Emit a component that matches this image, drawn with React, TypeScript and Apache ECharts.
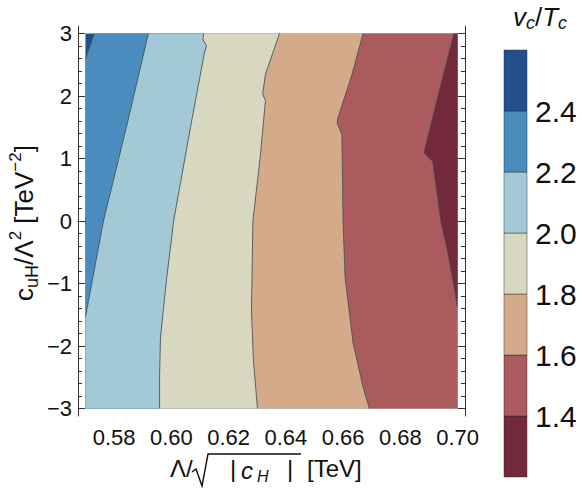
import React, { useEffect, useRef } from 'react';
import * as echarts from 'echarts';

const FONT = "'Liberation Sans', Arial, Helvetica, sans-serif";

// contour levels and band colours (low -> high)
const levels = [1.2, 1.4, 1.6, 1.8, 2.0, 2.2, 2.4, 2.6];
const bandColors = ['#74283b', '#ab5b5d', '#d4aa8b', '#d8d8c1', '#a3c9d6', '#4a8cbd', '#234f8f'];

// tick labels
const xTickValues = [0.58, 0.6, 0.62, 0.64, 0.66, 0.68, 0.7];
const yTickValues = [-3, -2, -1, 0, 1, 2, 3];
const colorbarTicks = [1.4, 1.6, 1.8, 2.0, 2.2, 2.4];

// data domain
const xDomain = [0.57, 0.7];
const yDomain = [-3, 3];

// contour lines [x, y], ordered from top edge downwards
const contour24 = [[0.5731, 3], [0.57, 2.59]];
const contour22 = [[0.592, 3], [0.5843, 1.5], [0.5763, 0], [0.57, -1.54]];
const contour20 = [[0.6113, 3], [0.611, 2.91], [0.6123, 2.8], [0.6116, 2.7], [0.6067, 1.5], [0.6008, 0], [0.5999, -0.35], [0.5984, -0.9], [0.5962, -1.87], [0.5959, -2.5], [0.5959, -3]];
const contour18 = [[0.6378, 3], [0.6329, 2.35], [0.6319, 2.03], [0.6329, 1.93], [0.631, 1.0], [0.6285, 0], [0.628, -1.43], [0.6287, -2.24], [0.6301, -3]];
const contour16 = [[0.667, 3], [0.6631, 2.34], [0.6582, 1.65], [0.6579, 1.57], [0.6596, 1.38], [0.66, 0], [0.6607, -0.9], [0.6635, -1.95], [0.667, -2.66], [0.6692, -3]];
const contour14 = [[0.6987, 3], [0.6931, 2.0], [0.6882, 1.09], [0.6913, 0.95], [0.6941, 0], [0.6966, -0.51], [0.7, -1.38]];

const contours = [
  { level: 2.4, pts: contour24 },
  { level: 2.2, pts: contour22 },
  { level: 2.0, pts: contour20 },
  { level: 1.8, pts: contour18 },
  { level: 1.6, pts: contour16 },
  { level: 1.4, pts: contour14 },
];

const X_MIN = 0.5674, X_MAX = 0.7026, Y_MIN = -3.12, Y_MAX = 3.12;
const frameColor = '#333';

function regionRightOf(pts: number[][]): number[][] {
  const [X0, X1] = xDomain;
  const [Y0, Y1] = yDomain;
  const out = pts.slice();
  const [xe, ye] = pts[pts.length - 1];
  if (xe >= X1 - 1e-9) {
    out.push([X1, Y1]);
  } else {
    if (ye > Y0 + 1e-9) out.push([X0, Y0]);
    out.push([X1, Y0], [X1, Y1]);
  }
  return out;
}

function minorValues(from: number, to: number, step: number, majorStep: number): number[] {
  const res: number[] = [];
  const n = Math.round((to - from) / step);
  for (let i = 0; i <= n; i++) {
    const v = +(from + i * step).toFixed(6);
    const r = v / majorStep;
    if (Math.abs(r - Math.round(r)) > 1e-6) res.push(v);
  }
  return res;
}
const xMinor = minorValues(0.57, 0.7, 0.005, 0.02);
const yMinor = minorValues(-3, 3, 0.2, 1);

export default function App() {
  const ref = useRef<HTMLDivElement>(null);
  useEffect(() => {
    if (!ref.current) return;
    const chart = echarts.init(ref.current, null, { renderer: 'svg' });

    const baseX = { type: 'value', gridIndex: 0, min: X_MIN, max: X_MAX, splitLine: { show: false } };
    const baseY = { type: 'value', gridIndex: 0, min: Y_MIN, max: Y_MAX, splitLine: { show: false } };
    const lineSt = { color: frameColor, width: 1 };

    const option: any = {
      animation: false,
      backgroundColor: '#fff',
      grid: [
        { left: 78, top: 26, width: 387, height: 390, containLabel: false },
        { left: 504, top: 50, width: 23, height: 427, containLabel: false },
      ],
      xAxis: [
        {
          ...baseX, position: 'bottom',
          axisLine: { show: true, lineStyle: lineSt },
          axisTick: { show: true, inside: true, length: 7, customValues: xTickValues, lineStyle: lineSt },
          axisLabel: { show: true, customValues: xTickValues, formatter: (v: number) => v.toFixed(2), fontSize: 22, color: '#111', margin: 10, fontFamily: FONT },
        },
        {
          ...baseX, position: 'bottom',
          axisLine: { show: false },
          axisTick: { show: true, inside: true, length: 4, customValues: xMinor, lineStyle: lineSt },
          axisLabel: { show: false },
        },
        {
          ...baseX, position: 'top',
          axisLine: { show: true, lineStyle: lineSt },
          axisTick: { show: true, inside: true, length: 7, customValues: xTickValues, lineStyle: lineSt },
          axisLabel: { show: false },
        },
        {
          ...baseX, position: 'top',
          axisLine: { show: false },
          axisTick: { show: true, inside: true, length: 4, customValues: xMinor, lineStyle: lineSt },
          axisLabel: { show: false },
        },
        { type: 'value', gridIndex: 1, min: 0, max: 1, show: false },
      ],
      yAxis: [
        {
          ...baseY, position: 'left',
          axisLine: { show: true, lineStyle: lineSt },
          axisTick: { show: true, inside: true, length: 7, customValues: yTickValues, lineStyle: lineSt },
          axisLabel: {
            show: true, customValues: yTickValues,
            formatter: (v: number) => (v < 0 ? '\u2212' + Math.abs(v) : String(v)),
            fontSize: 22, color: '#111', margin: 6, fontFamily: FONT,
          },
        },
        {
          ...baseY, position: 'left',
          axisLine: { show: false },
          axisTick: { show: true, inside: true, length: 4, customValues: yMinor, lineStyle: lineSt },
          axisLabel: { show: false },
        },
        {
          ...baseY, position: 'right',
          axisLine: { show: true, lineStyle: lineSt },
          axisTick: { show: true, inside: true, length: 7, customValues: yTickValues, lineStyle: lineSt },
          axisLabel: { show: false },
        },
        {
          ...baseY, position: 'right',
          axisLine: { show: false },
          axisTick: { show: true, inside: true, length: 4, customValues: yMinor, lineStyle: lineSt },
          axisLabel: { show: false },
        },
        {
          type: 'value', gridIndex: 1, position: 'right', min: levels[0], max: levels[levels.length - 1],
          splitLine: { show: false },
          axisLine: { show: false },
          axisTick: { show: true, inside: false, length: 6, customValues: colorbarTicks, lineStyle: { color: '#777', width: 1 } },
          axisLabel: { show: true, customValues: colorbarTicks, formatter: (v: number) => v.toFixed(1), fontSize: 30, color: '#111', margin: 8, fontFamily: FONT },
        },
      ],
      series: [
        {
          type: 'custom',
          xAxisIndex: 0, yAxisIndex: 0,
          silent: true,
          z: 1,
          data: [[0], ...contours.map((_, i) => [i + 1])],
          renderItem: (params: any, api: any) => {
            const i = api.value(0);
            let pts: number[][];
            let color: string;
            if (i === 0) {
              pts = [[xDomain[0], yDomain[1]], [xDomain[0], yDomain[0]], [xDomain[1], yDomain[0]], [xDomain[1], yDomain[1]]];
              color = bandColors[bandColors.length - 1];
            } else {
              const c = contours[i - 1];
              pts = regionRightOf(c.pts);
              color = bandColors[levels.indexOf(c.level) - 1];
            }
            return {
              type: 'polygon',
              z2: i,
              shape: { points: pts.map((p) => api.coord(p)) },
              style: { fill: color, stroke: null },
            };
          },
        },
        ...contours.map((c) => ({
          type: 'line',
          xAxisIndex: 0, yAxisIndex: 0,
          data: c.pts,
          showSymbol: false,
          symbol: 'none',
          silent: true,
          z: 3,
          lineStyle: { color: '#4a5656', width: 0.9 },
        })),
        {
          type: 'custom',
          xAxisIndex: 4, yAxisIndex: 4,
          silent: true,
          data: bandColors.map((_, i) => [i]),
          renderItem: (params: any, api: any) => {
            const i = api.value(0);
            const p0 = api.coord([0, levels[i + 1]]);
            const p1 = api.coord([1, levels[i]]);
            return {
              type: 'rect',
              shape: { x: p0[0], y: p0[1], width: p1[0] - p0[0], height: p1[1] - p0[1] },
              style: { fill: bandColors[i], stroke: 'rgba(40,40,40,0.45)', lineWidth: 1 },
            };
          },
        },
      ],
      graphic: [
        {
          type: 'text', x: 24, y: 223, rotation: Math.PI / 2,
          style: {
            text: '{n|c}{sub|uH}{n|/\u039B}{sup|2}{n| [TeV}{sup|\u22122}{n|]}',
            align: 'center', verticalAlign: 'middle', fill: '#111',
            rich: {
              n: { fontSize: 26, lineHeight: 34, fontFamily: FONT, fill: '#111' },
              sub: { fontSize: 18, lineHeight: 18, verticalAlign: 'bottom', fontFamily: FONT, fill: '#111' },
              sup: { fontSize: 17, lineHeight: 17, verticalAlign: 'top', fontFamily: FONT, fill: '#111' },
            },
          },
        },
        { type: 'text', x: 170, y: 468, style: { text: '\u039B/', fontSize: 24, fontFamily: FONT, fill: '#111', align: 'left', verticalAlign: 'middle' } },
        { type: 'polyline', shape: { points: [[192, 472], [196, 469], [202, 486], [208, 454], [301, 454]] }, style: { stroke: '#111', lineWidth: 1.4, fill: null } },
        { type: 'text', x: 230, y: 468, style: { text: '|', fontSize: 24, fontFamily: FONT, fill: '#111', align: 'left', verticalAlign: 'middle' } },
        { type: 'text', x: 241, y: 470, style: { text: 'c', fontSize: 24, fontStyle: 'italic', fontFamily: FONT, fill: '#111', align: 'left', verticalAlign: 'middle' } },
        { type: 'text', x: 257, y: 476, style: { text: 'H', fontSize: 16, fontStyle: 'italic', fontFamily: FONT, fill: '#111', align: 'left', verticalAlign: 'middle' } },
        { type: 'text', x: 287, y: 468, style: { text: '|', fontSize: 24, fontFamily: FONT, fill: '#111', align: 'left', verticalAlign: 'middle' } },
        { type: 'text', x: 307, y: 468, style: { text: '[TeV]', fontSize: 24, fontFamily: FONT, fill: '#111', align: 'left', verticalAlign: 'middle' } },
        {
          type: 'text', x: 540, y: 17,
          style: {
            text: '{i|v}{s|c}{n|/}{i|T}{s|c}',
            align: 'center', verticalAlign: 'middle', fill: '#111',
            rich: {
              i: { fontSize: 26, lineHeight: 30, fontStyle: 'italic', fontFamily: FONT, fill: '#111' },
              n: { fontSize: 26, lineHeight: 30, fontFamily: FONT, fill: '#111' },
              s: { fontSize: 18, lineHeight: 18, fontStyle: 'italic', verticalAlign: 'bottom', fontFamily: FONT, fill: '#111' },
            },
          },
        },
      ],
    };
    chart.setOption(option);
    return () => chart.dispose();
  }, []);
  return <div ref={ref} style={{ position: 'fixed', left: 0, top: 0, width: 582, height: 488 }} />;
}
